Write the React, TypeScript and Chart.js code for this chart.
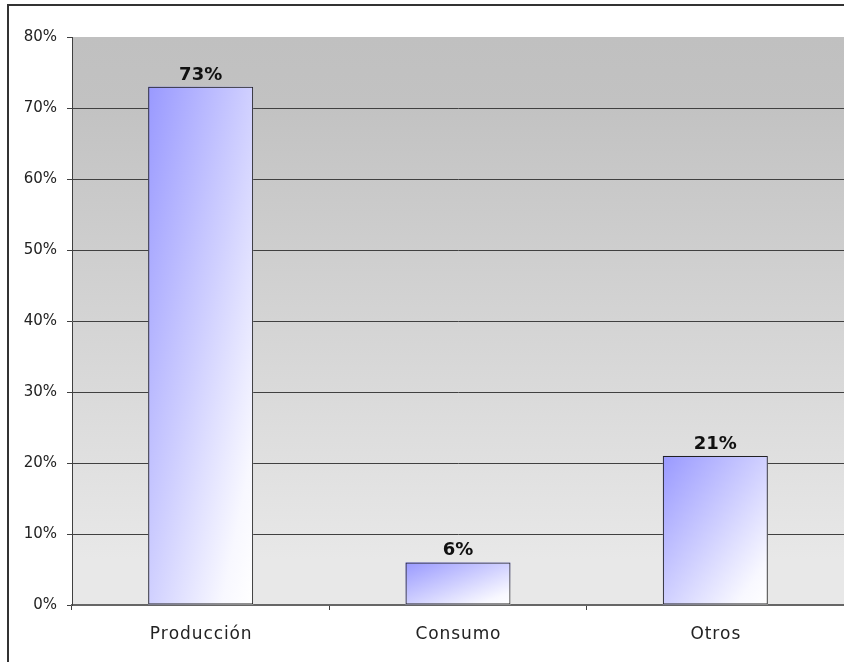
import React, { useEffect, useRef } from 'react';
import { Chart, registerables } from 'chart.js';

Chart.register(...registerables);

const categories = ['Producción', 'Consumo', 'Otros'];
const shares = [73, 6, 21];
const yMin = 0;
const yMax = 80;
const yStep = 10;

const FONT = 'DejaVu Sans';

export default function App() {
  const ref = useRef<HTMLCanvasElement>(null);

  useEffect(() => {
    document.body.style.margin = '0';
    const canvas = ref.current!;

    const frame = {
      id: 'frame',
      beforeDraw(chart: any) {
        const { ctx, chartArea: a, width, height } = chart;
        ctx.save();
        ctx.fillStyle = '#ffffff';
        ctx.fillRect(0, 0, width, height);
        const g = ctx.createLinearGradient(0, a.top, 0, a.bottom);
        g.addColorStop(0, '#c0c0c0');
        g.addColorStop(0.12, '#c2c2c2');
        g.addColorStop(0.92, '#e8e8e8');
        g.addColorStop(1, '#e8e8e8');
        ctx.fillStyle = g;
        ctx.fillRect(a.left, a.top, a.right - a.left, a.bottom - a.top);
        ctx.strokeStyle = '#333333';
        ctx.lineWidth = 2;
        ctx.beginPath();
        ctx.moveTo(8, height);
        ctx.lineTo(8, 5);
        ctx.lineTo(width, 5);
        ctx.stroke();
        ctx.restore();
      },
    };

    const barFill = {
      id: 'barFill',
      beforeDatasetsDraw(chart: any) {
        const { ctx } = chart;
        const meta = chart.getDatasetMeta(0);
        ctx.save();
        meta.data.forEach((el: any) => {
          const { x, y, base, width } = el.getProps(['x', 'y', 'base', 'width'], true);
          const l = x - width / 2;
          const h = base - y;
          if (h <= 0) return;
          const t = 2 / (1 / (width * width) + 1 / (h * h));
          const g = ctx.createLinearGradient(l, y, l + t / width, y + t / h);
          g.addColorStop(0, '#9999ff');
          g.addColorStop(0.5, '#d0d0ff');
          g.addColorStop(0.85, '#f8f8ff');
          g.addColorStop(1, '#ffffff');
          ctx.fillStyle = g;
          ctx.fillRect(l, y, width, h);
        });
        ctx.restore();
      },
    };

    const valueLabels = {
      id: 'valueLabels',
      afterDatasetsDraw(chart: any) {
        const { ctx } = chart;
        const meta = chart.getDatasetMeta(0);
        ctx.save();
        ctx.font = `bold 18px "${FONT}"`;
        ctx.fillStyle = '#111111';
        ctx.textAlign = 'center';
        ctx.textBaseline = 'alphabetic';
        meta.data.forEach((el: any, i: number) => {
          const { x, y } = el.getProps(['x', 'y'], true);
          ctx.fillText(shares[i] + '%', x, y - 7);
        });
        ctx.restore();
      },
    };

    // category labels with slightly wider tracking (Century Gothic look)
    const categoryLabels = {
      id: 'categoryLabels',
      afterDraw(chart: any) {
        const { ctx } = chart;
        const xs = chart.scales.x;
        const spacing = 0.9;
        ctx.save();
        ctx.font = `17px "${FONT}"`;
        ctx.fillStyle = '#222222';
        ctx.textAlign = 'left';
        ctx.textBaseline = 'middle';
        const yPos = xs.top + 30;
        categories.forEach((label, i) => {
          const cx = xs.getPixelForTick(i);
          const chars = Array.from(label);
          const widths = chars.map((c) => ctx.measureText(c).width);
          const total = widths.reduce((s, w) => s + w, 0) + spacing * (chars.length - 1);
          let px = cx - total / 2;
          chars.forEach((c, k) => {
            ctx.fillText(c, px, yPos);
            px += widths[k] + spacing;
          });
        });
        ctx.restore();
      },
    };

    const chart = new Chart(canvas, {
      type: 'bar',
      data: {
        labels: categories,
        datasets: [
          {
            data: shares,
            backgroundColor: 'rgba(0,0,0,0)',
            borderColor: '#222222',
            borderWidth: 1,
            borderSkipped: false,
            categoryPercentage: 1,
            barPercentage: 0.408,
          },
        ],
      },
      options: {
        responsive: false,
        animation: false,
        devicePixelRatio: 1,
        layout: { padding: { top: 37, left: 0, right: 0, bottom: 0 } },
        plugins: {
          legend: { display: false },
          tooltip: { enabled: false },
        },
        scales: {
          x: {
            offset: true,
            grid: {
              display: true,
              offset: true,
              drawOnChartArea: false,
              drawTicks: true,
              tickLength: 5,
              tickColor: '#404040',
            },
            border: { color: '#666666', width: 2 },
            ticks: {
              padding: 16,
              color: 'rgba(0,0,0,0)',
              font: { family: FONT, size: 16 },
            },
            afterFit(s: any) {
              s.height = 57;
            },
          },
          y: {
            min: yMin,
            max: yMax,
            ticks: {
              stepSize: yStep,
              padding: 10,
              color: '#222222',
              font: { family: FONT, size: 15 },
              callback: (v: any) => v + '%',
            },
            grid: {
              color: (c: any) =>
                c.tick && (c.tick.value === yMin || c.tick.value === yMax) ? 'rgba(0,0,0,0)' : '#404040',
              tickColor: '#404040',
              tickLength: 5,
              lineWidth: 1,
            },
            border: { color: '#404040', width: 1 },
            afterFit(s: any) {
              s.width = 72;
            },
          },
        },
      },
      plugins: [frame, barFill, valueLabels, categoryLabels],
    });

    return () => chart.destroy();
  }, []);

  return <canvas ref={ref} width={844} height={662} style={{ display: 'block', width: 844, height: 662 }} />;
}
